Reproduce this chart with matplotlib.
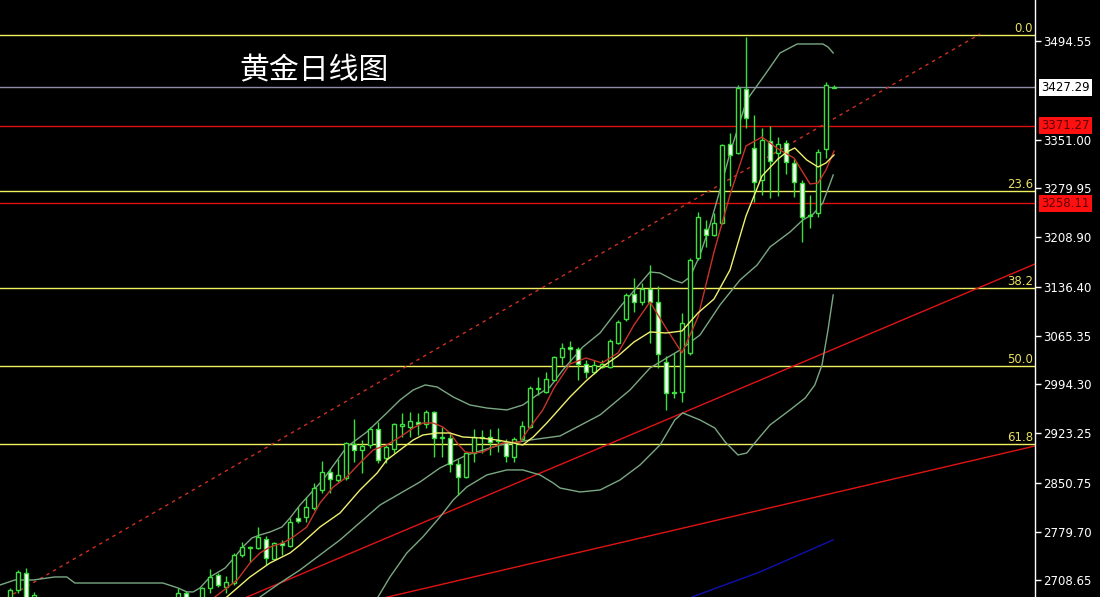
import numpy as np
import matplotlib
matplotlib.use("Agg")
import matplotlib.pyplot as plt

plt.rcParams['font.family'] = ['DejaVu Sans']

nan = np.nan
# ---------------- candle data (index = trading day) ----------------
opens = [2680.3, 2694.8, 2719.6, 2665.7] + [nan] * 17 + [
    2680.3, 2690.5, nan, 2680.3, 2697.8, 2716.7, 2699.2, 2705.0, 2745.8, 2756.0,
    2756.0, 2769.1, 2740.0, 2763.3, 2758.9, 2799.7, 2801.2, 2814.3, 2840.5, 2866.7,
    2855.1, 2858.0, 2907.5, 2898.8, 2906.1, 2929.4, 2887.1, 2900.2, 2933.8, 2932.3,
    2939.6, 2936.7, 2954.1, 2916.3, 2916.3, 2878.4, 2859.5, 2894.4, 2916.3, 2917.7,
    2911.9, 2910.4, 2888.6, 2914.8, 2932.3, 2987.6, 2983.3, 3000.8, 3034.3, 3048.8,
    3045.9, 3024.1, 3012.4, 3019.7, 3019.7, 3054.7, 3089.6, 3126.0, 3114.4, 3133.3,
    3114.4, 3027.0, 2983.3, 2983.3, 3040.1, 3178.5, 3220.7, 3212.0, 3229.5, 3344.5,
    3331.4, 3424.7, 3338.7, 3292.1, 3348.9, 3331.4, 3346.0, 3316.9, 3287.7, 3239.7,
    3244.0, 3337.3, 3426.5]
highs = [2697.8, 2724.0, 2726.9, 2691.9] + [nan] * 17 + [
    2697.8, 2693.4, nan, 2699.2, 2725.4, 2719.6, 2715.2, 2748.7, 2764.8, 2758.9,
    2786.6, 2773.5, 2764.8, 2767.7, 2799.7, 2815.8, 2830.3, 2850.7, 2882.8, 2871.1,
    2885.7, 2910.4, 2943.9, 2913.3, 2932.3, 2939.6, 2906.1, 2938.1, 2952.7, 2954.1,
    2952.7, 2957.1, 2955.6, 2932.3, 2923.5, 2885.7, 2895.9, 2929.4, 2927.9, 2929.4,
    2930.8, 2914.8, 2917.7, 2941.0, 2992.0, 3005.1, 3012.4, 3035.7, 3054.7, 3057.6,
    3048.8, 3029.9, 3029.9, 3029.9, 3060.5, 3088.2, 3127.5, 3149.3, 3142.1, 3168.3,
    3137.7, 3035.7, 3040.1, 3098.4, 3178.5, 3245.5, 3233.8, 3244.0, 3344.5, 3360.6,
    3430.5, 3500.4, 3386.8, 3367.8, 3370.8, 3354.7, 3350.4, 3322.7, 3292.1, 3270.2,
    3337.3, 3434.9, 3430.5]
lows = [2673.0, 2690.5, 2665.7, 2658.4] + [nan] * 17 + [
    2675.9, 2673.0, nan, 2675.9, 2690.5, 2699.2, 2690.5, 2702.1, 2742.9, 2735.6,
    2754.6, 2731.3, 2738.5, 2745.8, 2757.5, 2792.4, 2793.9, 2811.4, 2836.1, 2836.1,
    2852.2, 2855.1, 2881.3, 2865.3, 2901.7, 2879.9, 2879.9, 2894.4, 2917.7, 2917.7,
    2920.6, 2930.8, 2888.6, 2888.6, 2866.7, 2833.2, 2858.0, 2881.3, 2894.4, 2891.5,
    2895.9, 2881.3, 2881.3, 2913.3, 2930.8, 2978.9, 2981.8, 2999.3, 3022.6, 3027.0,
    3000.8, 3003.7, 3009.5, 3018.2, 3018.2, 3053.2, 3086.7, 3099.8, 3110.0, 3054.7,
    3018.2, 2957.1, 2974.5, 2968.7, 3037.2, 3175.6, 3194.5, 3210.5, 3228.0, 3283.4,
    3330.0, 3367.8, 3260.0, 3270.2, 3265.9, 3268.8, 3300.8, 3267.3, 3201.8, 3222.2,
    3238.2, 3324.1, 3425.5]
closes = [2694.8, 2721.1, 2673.0, 2687.6] + [nan] * 17 + [
    2690.5, 2680.3, nan, 2697.8, 2713.8, 2702.1, 2706.5, 2745.8, 2757.5, 2757.5,
    2772.1, 2741.5, 2763.3, 2760.4, 2793.9, 2795.4, 2815.8, 2843.4, 2866.7, 2856.5,
    2862.4, 2909.0, 2898.8, 2904.6, 2929.4, 2884.2, 2903.2, 2936.7, 2936.7, 2941.0,
    2936.7, 2954.1, 2916.3, 2917.7, 2878.4, 2859.5, 2894.4, 2917.7, 2917.7, 2910.4,
    2913.3, 2890.0, 2914.8, 2933.8, 2989.1, 2989.1, 3002.2, 3034.3, 3047.4, 3045.9,
    3024.1, 3012.4, 3022.6, 3024.1, 3057.6, 3085.2, 3124.6, 3114.4, 3133.3, 3114.4,
    3038.6, 2981.8, 2981.8, 3083.8, 3175.6, 3238.2, 3212.0, 3229.5, 3343.1, 3328.5,
    3426.1, 3382.4, 3289.2, 3350.4, 3319.8, 3344.5, 3318.3, 3289.2, 3238.2, 3241.1,
    3332.9, 3430.5, 3427.29]

# ---------------- indicator lines (index, price) ----------------
bb_upper_x = [-1.25, 0.6, 2.9, 5.6, 7.1, 8.1, 17.5, 19.1, 21, 22.1, 22.9, 23.75, 25, 26.9,
              28.1, 29.1, 30.25, 31.25, 32.5, 34, 35, 36.25, 39.1, 42.1, 44.6, 47.1, 48.75,
              50.4, 51.9, 53.4, 55.4, 57.5, 59.6, 62.1, 64.1, 65.9, 67.5, 69.1, 71.6, 73.75,
              76.25, 78.4, 80, 81.25, 82.9, 84, 85, 86.25, 87.5, 88.75, 90, 92.1, 94.6,
              96.25, 98.4, 101.6, 102.25, 102.9]
bb_upper_y = [2702.1, 2709.4, 2709.4, 2713.8, 2713.8, 2705.0, 2705.0, 2705.0, 2697.8, 2692.0,
              2692.0, 2697.8, 2713.8, 2726.9, 2742.9, 2757.5, 2770.6, 2775.0, 2779.3, 2786.6,
              2799.7, 2818.6, 2855.1, 2903.2, 2925.0, 2952.7, 2971.6, 2986.2, 2993.5, 2990.5,
              2976.0, 2964.3, 2959.9, 2957.1, 2964.3, 2978.9, 2990.5, 3015.3, 3048.8, 3069.2,
              3107.1, 3136.2, 3158.1, 3156.6, 3146.4, 3142.1, 3150.8, 3182.8, 3226.5, 3277.5,
              3331.4, 3408.6, 3449.4, 3477.1, 3490.2, 3490.2, 3485.8, 3477.1]
bb_mid_x = [31.25, 33.75, 36.25, 41.25, 46.25, 51.25, 53.75, 57.1, 61.25, 65, 68.75, 73.75,
            77.5, 80, 83.75, 86.25, 88.75, 91.25, 93.4, 95, 97.5, 99.1, 100.4, 101.6, 102.9]
bb_mid_y = [2684.6, 2705.0, 2724.0, 2767.7, 2818.6, 2852.2, 2872.6, 2891.5, 2906.1, 2913.3,
            2919.2, 2949.8, 2986.2, 3018.2, 3044.4, 3066.3, 3110.0, 3146.4, 3168.3, 3194.5,
            3216.3, 3233.8, 3242.5, 3258.6, 3299.4]
bb_lower_x = [46, 47.5, 49.6, 51.6, 53.75, 55.4, 57.1, 59.6, 62.1, 64.1, 66.25, 67.9, 68.75,
              71.25, 73.75, 76.25, 78.75, 81.25, 83.1, 84.1, 86.25, 88.1, 89.4, 91, 92.1,
              93.4, 95, 97.5, 99.4, 100.6, 101.5, 102.25, 102.9]
bb_lower_y = [2684.6, 2713.8, 2748.7, 2772.0, 2801.2, 2825.9, 2844.9, 2862.4, 2869.7, 2869.7,
              2862.4, 2850.7, 2843.4, 2837.6, 2840.5, 2855.1, 2876.9, 2906.1, 2942.5, 2952.7,
              2942.5, 2930.8, 2910.4, 2891.5, 2894.4, 2913.3, 2935.2, 2957.1, 2974.5, 2993.5,
              3022.6, 3073.6, 3124.6]
ma5_x = [25.6, 28.4, 30.0, 31.25, 32.5, 34.1, 35.4, 37.1, 38.75, 40.4, 42.1, 43.75, 45.4,
         47.1, 48.75, 50.4, 51.6, 52.9, 54.1, 55.0, 55.9, 56.9, 57.9, 59.1, 60.4, 61.6,
         63.75, 64.75, 66.6, 68, 70, 72, 74, 76, 78, 80, 82, 84, 86, 88, 90, 92, 94, 96,
         98, 100, 101, 102, 103]
ma5_y = [2684.6, 2709.4, 2734.2, 2748.7, 2757.5, 2763.3, 2772.0, 2786.6, 2821.6, 2844.9,
         2859.5, 2879.9, 2898.8, 2906.1, 2917.7, 2930.8, 2938.1, 2938.1, 2932.3, 2923.5,
         2909.0, 2895.9, 2894.4, 2895.9, 2903.2, 2909.0, 2910.4, 2927.9, 2957.1, 2989.1,
         3024.1, 3032.8, 3025.5, 3040.1, 3080.9, 3114.4, 3076.5, 3040.1, 3092.5, 3187.2,
         3270.2, 3341.6, 3354.7, 3337.3, 3324.1, 3286.3, 3287.7, 3306.7, 3334.3]
ma10_x = [27.1, 30.0, 32.5, 35.0, 36.25, 38.75, 41.25, 43.75, 45.9, 47.1, 48.75, 50.4, 51.6,
          53.4, 55.0, 56.6, 58.75, 60.9, 62.9, 64.1, 65.4, 67.1, 68, 70, 72, 74, 76, 78,
          80, 82, 84, 86, 88, 90, 92, 94, 96, 97.1, 98.1, 99.6, 101, 102, 103]
ma10_y = [2684.6, 2713.8, 2734.2, 2748.7, 2760.4, 2786.6, 2807.0, 2840.5, 2865.3, 2884.2,
          2898.8, 2913.3, 2920.6, 2923.5, 2923.5, 2917.7, 2916.3, 2913.3, 2909.0, 2906.1,
          2917.7, 2938.1, 2949.8, 2976.0, 2999.3, 3019.7, 3035.7, 3056.1, 3070.7, 3069.2,
          3072.1, 3098.4, 3118.7, 3161.0, 3239.7, 3297.9, 3322.7, 3332.9, 3338.7, 3321.2,
          3311.0, 3316.9, 3328.5]
blue_x = [85.25, 93.75, 102.875]
blue_y = [2684.6, 2721.1, 2767.7]

# trend lines (index, price end points)
dash_trend = ([-0.625, 121.25], [2681.7, 3504.7])
trend1 = ([28.75, 128.125], [2680.3, 3169.7])
trend2 = ([45.625, 128.125], [2680.3, 2904.6])

# Fibonacci retracement
fib_high, fib_low = 3503.3, 2539.2
fib_levels = [0.0, 23.6, 38.2, 50.0, 61.8]

# horizontal price lines
price_lines = [3427.29, 3371.27, 3258.11]
price_line_colors = ['#8c8ca8', '#e01010', '#e01010']

tick_values = [3494.55, 3351.00, 3279.95, 3208.90, 3136.40, 3065.35, 2994.30,
               2923.25, 2850.75, 2779.70, 2708.65]
title = '黄金日线图'

# ---------------- drawing ----------------
W, H = 1100, 597
fig = plt.figure(figsize=(W / 100, H / 100), dpi=100, facecolor='black')
ax = fig.add_axes([0, 0, 1035 / W, 1], facecolor='black')
ax.set_xlim(-1.25, 128.125)
ax.set_ylim(2684.6, 3554.27)

green = '#3ce03c'
bbc = '#7aa882'

# fib lines
for lv in fib_levels:
    p = fib_high - (fib_high - fib_low) * lv / 100.0
    ax.axhline(p, color='#f0f060', lw=1, zorder=1)
    ax.text(0.998, p, f'{lv:.1f}', transform=ax.get_yaxis_transform(),
            color='#e8e060', fontsize=8.5, ha='right', va='bottom')

for p, c in zip(price_lines, price_line_colors):
    ax.axhline(p, color=c, lw=1, zorder=1)

ax.plot(*dash_trend, color='#d03020', lw=1, ls=(0, (2.5, 3)), zorder=1)
ax.plot(*trend1, color='#e01414', lw=1, zorder=1)
ax.plot(*trend2, color='#e01414', lw=1, zorder=1)
ax.plot(blue_x, blue_y, color='#1010b0', lw=1, zorder=1)

ax.plot(bb_upper_x, bb_upper_y, color=bbc, lw=1, zorder=2)
ax.plot(bb_mid_x, bb_mid_y, color=bbc, lw=1, zorder=2)
ax.plot(bb_lower_x, bb_lower_y, color=bbc, lw=1, zorder=2)

# candles
idx = np.arange(len(closes))
o = np.array(opens); h = np.array(highs); l = np.array(lows); c = np.array(closes)
ok = ~np.isnan(c)
ax.vlines(idx[ok], l[ok], h[ok], color=green, lw=1, zorder=3)
bottoms = np.minimum(o, c)
heights = np.maximum(np.abs(c - o), 0.3)
fills = ['black' if cc >= oo else 'white' for oo, cc in zip(o, c)]
ax.bar(idx[ok], heights[ok], bottom=bottoms[ok], width=0.6,
       color=[f for f, k in zip(fills, ok) if k], edgecolor=green, linewidth=1, zorder=4)

ax.plot(ma5_x, ma5_y, color='#c83228', lw=1, zorder=5)
ax.plot(ma10_x, ma10_y, color='#f0f070', lw=1, zorder=5)

# axes styling
for s in ['left', 'top', 'bottom']:
    ax.spines[s].set_visible(False)
ax.spines['right'].set_color('white')
ax.spines['right'].set_linewidth(1)
ax.set_xticks([])
ax.yaxis.tick_right()
ax.set_yticks(tick_values)
ax.set_yticklabels([f'{v:.2f}' for v in tick_values])
ax.tick_params(axis='y', colors='white', length=4, width=1, pad=2, labelsize=8.5,
               direction='out')

# price boxes on the right axis
box_specs = [(3427.29, 'white', 'black'), (3371.27, '#ff1010', '#600000'),
             (3258.11, '#ff1010', '#600000')]
for p, bg, fg in box_specs:
    ax.text(1.0 + 6 / 1035, p, f'{p:.2f}', transform=ax.get_yaxis_transform(),
            color=fg, fontsize=8.5, ha='left', va='center', clip_on=False,
            bbox=dict(boxstyle='square,pad=0.18', fc=bg, ec='none'))

fig.text(314 / W, 1 - 70.5 / H, title, color='white', fontsize=21.5, fontweight='light',
         ha='center', va='center', family=['Noto Sans CJK SC', 'DejaVu Sans'])

fig.savefig('out.png', dpi=100, facecolor='black')
